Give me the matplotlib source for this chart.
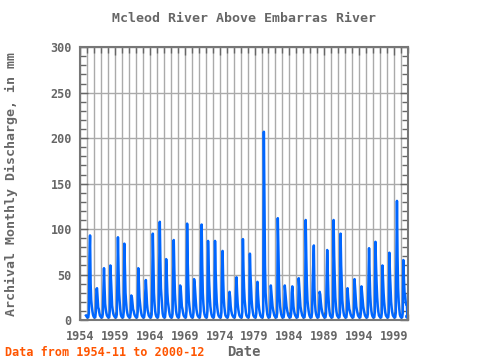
import numpy as np
import matplotlib
matplotlib.use("Agg")
import matplotlib.pyplot as plt
from matplotlib.ticker import MultipleLocator

# monthly discharge (mm), one row per year, starting 1954-11
start_year = 1954
start_month = 11
discharge = [
    5, 4,                                              # 1954
    3, 3, 3, 8, 70, 93, 40, 22, 15, 10, 6, 4,          # 1955
    3, 3, 3, 9, 34, 35, 25, 14, 12, 8, 5, 4,           # 1956
    3, 3, 3, 7, 30, 57, 35, 18, 12, 8, 5, 4,           # 1957
    3, 3, 3, 10, 60, 45, 30, 16, 11, 7, 5, 4,          # 1958
    3, 3, 3, 6, 40, 91, 55, 30, 20, 12, 6, 4,          # 1959
    3, 3, 3, 9, 84, 55, 30, 20, 12, 8, 5, 4,           # 1960
    3, 3, 3, 8, 27, 25, 18, 12, 10, 7, 5, 4,           # 1961
    3, 3, 3, 9, 57, 40, 25, 18, 12, 8, 5, 4,           # 1962
    3, 3, 3, 8, 30, 44, 30, 18, 11, 8, 5, 4,           # 1963
    3, 3, 3, 6, 40, 95, 60, 30, 18, 10, 6, 4,          # 1964
    3, 3, 3, 8, 60, 108, 65, 35, 25, 15, 7, 4,         # 1965
    3, 3, 3, 10, 67, 50, 30, 20, 15, 10, 6, 4,         # 1966
    3, 3, 3, 7, 50, 88, 55, 30, 18, 10, 6, 4,          # 1967
    3, 3, 3, 9, 38, 35, 25, 15, 12, 8, 5, 4,           # 1968
    3, 3, 3, 10, 106, 65, 40, 22, 15, 10, 6, 4,        # 1969
    3, 3, 3, 8, 45, 40, 30, 20, 12, 8, 5, 4,           # 1970
    3, 3, 3, 9, 70, 105, 60, 30, 18, 10, 6, 4,         # 1971
    3, 3, 3, 10, 87, 60, 40, 25, 15, 10, 6, 4,         # 1972
    3, 3, 3, 9, 87, 55, 35, 20, 13, 8, 5, 4,           # 1973
    3, 3, 3, 8, 50, 76, 45, 25, 15, 9, 5, 4,           # 1974
    3, 3, 3, 6, 20, 31, 25, 15, 10, 7, 5, 4,           # 1975
    3, 3, 3, 8, 30, 47, 30, 18, 12, 8, 5, 4,           # 1976
    3, 3, 3, 9, 89, 55, 35, 22, 15, 9, 5, 4,           # 1977
    3, 3, 3, 8, 73, 50, 35, 22, 14, 9, 5, 4,           # 1978
    3, 3, 3, 7, 30, 42, 28, 18, 12, 8, 5, 4,           # 1979
    3, 3, 3, 10, 207, 135, 60, 30, 20, 12, 6, 4,       # 1980
    3, 3, 3, 8, 38, 30, 22, 15, 11, 8, 5, 4,           # 1981
    3, 3, 3, 8, 112, 80, 45, 25, 15, 10, 6, 4,         # 1982
    3, 3, 3, 8, 38, 30, 22, 15, 11, 8, 5, 4,           # 1983
    3, 3, 3, 7, 30, 37, 25, 15, 10, 7, 5, 4,           # 1984
    3, 3, 3, 9, 46, 35, 25, 15, 11, 8, 5, 4,           # 1985
    3, 3, 3, 10, 110, 70, 40, 22, 15, 10, 6, 4,        # 1986
    3, 3, 3, 8, 40, 60, 82, 35, 18, 10, 6, 4,          # 1987
    3, 3, 3, 9, 31, 28, 20, 14, 10, 7, 5, 4,           # 1988
    3, 3, 3, 7, 45, 77, 50, 28, 15, 9, 5, 4,           # 1989
    3, 3, 3, 9, 110, 70, 45, 25, 15, 9, 5, 4,          # 1990
    3, 3, 3, 8, 95, 60, 40, 22, 14, 9, 5, 4,           # 1991
    3, 3, 3, 9, 35, 25, 18, 12, 10, 7, 5, 4,           # 1992
    3, 3, 3, 8, 45, 35, 25, 15, 11, 8, 5, 4,           # 1993
    3, 3, 3, 8, 37, 30, 22, 15, 11, 8, 5, 4,           # 1994
    3, 3, 3, 7, 40, 79, 50, 28, 16, 10, 6, 4,          # 1995
    3, 3, 3, 9, 86, 60, 40, 25, 15, 9, 5, 4,           # 1996
    3, 3, 3, 8, 60, 45, 30, 20, 13, 8, 5, 4,           # 1997
    3, 3, 3, 9, 74, 50, 35, 20, 13, 8, 5, 4,           # 1998
    3, 3, 3, 8, 60, 131, 70, 35, 20, 12, 6, 4,         # 1999
    3, 3, 3, 8, 66, 45, 30, 28, 20, 17, 17, 4,         # 2000
]

x_ticks = [1954, 1959, 1964, 1969, 1974, 1979, 1984, 1989, 1994, 1999]

months = np.arange(len(discharge))
dates = start_year + (start_month - 1 + months) / 12.0

grey = "#666666"
font = "DejaVu Sans Mono"

fig = plt.figure(figsize=(4.8, 3.6), dpi=100)
ax = fig.add_axes([0.167, 0.111, 0.683, 0.758])

ax.plot(dates, discharge, color="#0066ff", linewidth=1.8)
ax.plot(dates[-1], discharge[-1], "o", color="#0066ff", markersize=2.5)

ax.set_xlim(1954, 2001)
ax.set_ylim(0, 300)
ax.set_xticks(x_ticks)
ax.xaxis.set_minor_locator(MultipleLocator(1))
ax.yaxis.set_major_locator(MultipleLocator(50))
ax.yaxis.set_minor_locator(MultipleLocator(10))
ax.grid(True, which="major", axis="y", color="#aaaaaa", linewidth=1)
ax.grid(True, which="both", axis="x", color="#aaaaaa", linewidth=1)
ax.set_axisbelow(True)

ax.tick_params(which="both", direction="in", top=True, right=True, colors=grey,
               labelsize=8.5)
ax.tick_params(which="major", length=6, width=1)
ax.tick_params(which="minor", length=4, width=1)
ax.tick_params(axis="x", which="major", pad=7)
ax.tick_params(axis="y", which="major", pad=6)
for lab in ax.get_xticklabels() + ax.get_yticklabels():
    lab.set_fontfamily(font)
    lab.set_fontweight("bold")
for s in ax.spines.values():
    s.set_color("#777777")
    s.set_linewidth(1.5)

ax.set_title("Mcleod River Above Embarras River", color=grey, fontsize=9.5,
             fontfamily=font, fontweight="bold", pad=18)
ax.set_xlabel("Date", color=grey, fontsize=10, fontfamily=font, fontweight="bold")
ax.set_ylabel("Archival Monthly Discharge, in mm", color=grey, fontsize=9.5,
              fontfamily=font, fontweight="bold")
ax.yaxis.set_label_coords(-0.19, 0.5)
ax.xaxis.set_label_coords(0.5, -0.09)
fig.text(0.01, 0.01, "Data from 1954-11 to 2000-12", color="#ff5500",
         fontsize=8.5, fontfamily=font, fontweight="bold")

fig.savefig("out.png", dpi=100)
